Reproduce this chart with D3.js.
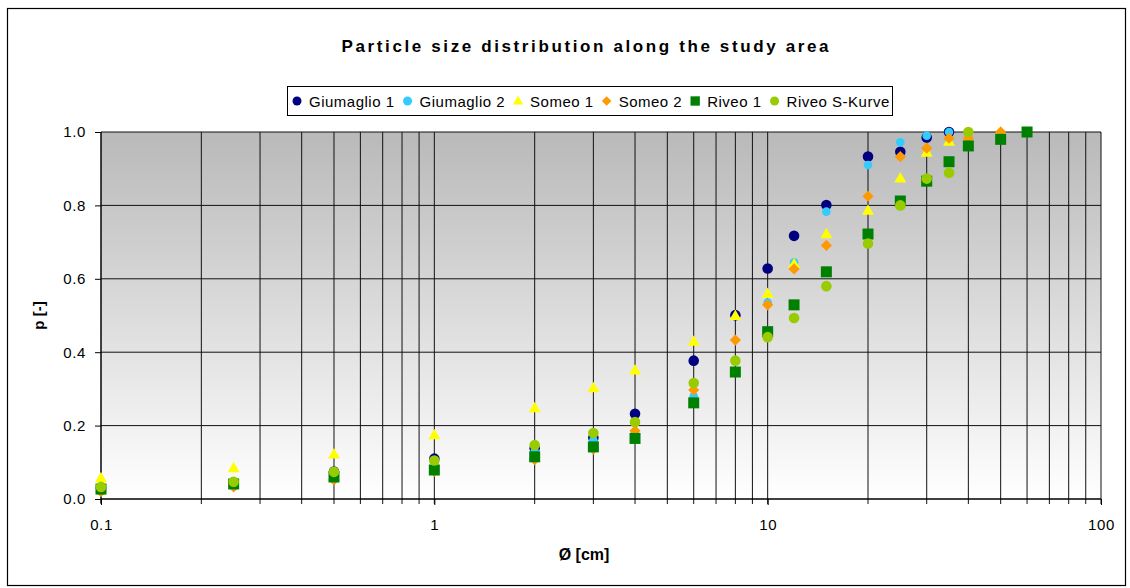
<!DOCTYPE html>
<html>
<head>
<meta charset="utf-8">
<script src="https://cdn.jsdelivr.net/npm/d3@7"></script>
<style>
  html, body { margin: 0; padding: 0; background: #fff; }
  svg { display: block; font-family: "Liberation Sans", Arial, sans-serif; }
</style>
</head>
<body>
<svg id="chart" width="1130" height="588"></svg>
<script>
// Grain diameters [cm] and cumulative passing fractions p [-]
const giumaglio1D = [0.1, 0.25, 0.5, 1, 2, 3, 4, 6, 8, 10, 12, 15, 20, 25, 30, 35];
const giumaglio1P = [0.03, 0.045, 0.075, 0.11, 0.138, 0.167, 0.232, 0.377, 0.501, 0.628, 0.717, 0.801, 0.933, 0.946, 0.985, 1.0];

const giumaglio2D = [0.1, 0.25, 0.5, 1, 2, 3, 4, 6, 8, 10, 12, 15, 20, 25, 30, 35];
const giumaglio2P = [0.03, 0.045, 0.07, 0.1, 0.13, 0.16, 0.18, 0.28, 0.378, 0.535, 0.645, 0.783, 0.91, 0.972, 0.99, 1.0];

const someo1D = [0.1, 0.25, 0.5, 1, 2, 3, 4, 6, 8, 10, 12, 15, 20, 25, 30, 35, 40, 50];
const someo1P = [0.057, 0.084, 0.122, 0.174, 0.248, 0.302, 0.351, 0.429, 0.499, 0.559, 0.64, 0.722, 0.786, 0.874, 0.944, 0.974, 0.978, 1.0];

const someo2D = [0.1, 0.25, 0.5, 1, 2, 3, 4, 6, 8, 10, 12, 15, 20, 25, 30, 35, 40, 50];
const someo2P = [0.02, 0.033, 0.052, 0.075, 0.107, 0.136, 0.186, 0.297, 0.433, 0.529, 0.627, 0.691, 0.825, 0.933, 0.956, 0.983, 0.983, 1.0];

const riveo1D = [0.1, 0.25, 0.5, 1, 2, 3, 4, 6, 8, 10, 12, 15, 20, 25, 30, 35, 40, 50, 60];
const riveo1P = [0.027, 0.041, 0.06, 0.079, 0.115, 0.142, 0.165, 0.262, 0.346, 0.456, 0.529, 0.619, 0.722, 0.812, 0.866, 0.919, 0.962, 0.98, 1.0];

const riveoSD = [0.1, 0.25, 0.5, 1, 2, 3, 4, 6, 8, 10, 12, 15, 20, 25, 30, 35, 40];
const riveoSP = [0.033, 0.047, 0.074, 0.105, 0.147, 0.18, 0.21, 0.316, 0.377, 0.441, 0.493, 0.58, 0.696, 0.80, 0.873, 0.889, 1.0];

const seriesNames = ["Giumaglio 1", "Giumaglio 2", "Someo 1", "Someo 2", "Riveo 1", "Riveo S-Kurve"];
const seriesColors = ["#000080", "#33CCFF", "#FFFF00", "#FF9900", "#008000", "#99CC00"];
const seriesShapes = ["circle", "smallCircle", "triangle", "diamond", "square", "circle"];

const xTickLabels = [0.1, 1, 10, 100];
const yTickValues = [0, 0.2, 0.4, 0.6, 0.8, 1.0];

const series = [
  [giumaglio1D, giumaglio1P], [giumaglio2D, giumaglio2P], [someo1D, someo1P],
  [someo2D, someo2P], [riveo1D, riveo1P], [riveoSD, riveoSP]
].map(([d, p], i) => ({
  name: seriesNames[i], color: seriesColors[i], shape: seriesShapes[i],
  points: d.map((v, j) => ({ d: v, p: p[j] }))
}));

const svg = d3.select("#chart");
const plot = { left: 101, right: 1101, top: 132, bottom: 499 };

const x = d3.scaleLog().domain([0.1, 100]).range([plot.left, plot.right]);
const y = d3.scaleLinear().domain([0, 1]).range([plot.bottom, plot.top]);

// outer frame
svg.append("rect").attr("x", 7.5).attr("y", 8.5).attr("width", 1118).attr("height", 577)
  .attr("fill", "#fff").attr("stroke", "#000").attr("stroke-width", 1.2);

// plot background: grey fading to white
const defs = svg.append("defs");
const grad = defs.append("linearGradient").attr("id", "bg").attr("x1", 0).attr("y1", 0).attr("x2", 0).attr("y2", 1);
grad.append("stop").attr("offset", "0%").attr("stop-color", "#b9b9b9");
grad.append("stop").attr("offset", "100%").attr("stop-color", "#ffffff");
svg.append("rect").attr("x", plot.left).attr("y", plot.top)
  .attr("width", plot.right - plot.left).attr("height", plot.bottom - plot.top)
  .attr("fill", "url(#bg)");

// vertical grid at every log tick
const logTicks = x.ticks();
svg.append("g").selectAll("line").data(logTicks).join("line")
  .attr("x1", d => x(d)).attr("x2", d => x(d))
  .attr("y1", plot.top).attr("y2", plot.bottom + 5)
  .attr("stroke", "#111").attr("stroke-width", 1);

// horizontal grid
svg.append("g").selectAll("line").data(yTickValues.slice(1)).join("line")
  .attr("x1", plot.left).attr("x2", plot.right)
  .attr("y1", d => y(d)).attr("y2", d => y(d))
  .attr("stroke", "#111").attr("stroke-width", 1);

// y axis
const yAxis = d3.axisLeft(y).tickValues(yTickValues).tickFormat(d3.format(".1f"))
  .tickSize(6).tickPadding(9);
const gy = svg.append("g").attr("transform", `translate(${plot.left},0)`).call(yAxis);
gy.attr("font-size", 15).attr("font-family", "Liberation Sans, Arial, sans-serif");
gy.select(".domain").attr("stroke", "#000").attr("d", `M0,${plot.top}V${plot.bottom + 4}`);
gy.selectAll(".tick line").attr("stroke", "#000");
gy.selectAll("text").attr("fill", "#000").attr("letter-spacing", "0.6px");

// x axis
const xAxis = d3.axisBottom(x).tickValues(xTickLabels).tickFormat(d => String(d))
  .tickSize(6).tickPadding(14);
const gx = svg.append("g").attr("transform", `translate(0,${plot.bottom})`).call(xAxis);
gx.attr("font-size", 15).attr("font-family", "Liberation Sans, Arial, sans-serif");
gx.select(".domain").attr("stroke", "#000").attr("stroke-width", 1.6).attr("d", `M${plot.left},0H${plot.right}`);
gx.selectAll(".tick line").attr("stroke", "#000");
gx.selectAll("text").attr("fill", "#000").attr("letter-spacing", "0.6px");

// axis titles
svg.append("text").attr("x", (plot.left + plot.right) / 2 - 17).attr("y", 560)
  .attr("text-anchor", "middle").attr("font-size", 16).attr("font-weight", "bold")
  .text("Ø [cm]");
svg.append("text").attr("transform", `translate(44,${(plot.top + plot.bottom) / 2}) rotate(-90)`)
  .attr("text-anchor", "middle").attr("font-size", 15).attr("font-weight", "bold")
  .text("p [-]");

// chart title
svg.append("text").attr("x", 585).attr("y", 52).attr("text-anchor", "middle")
  .attr("font-size", 17).attr("font-weight", "bold")
  .attr("textLength", 487).attr("lengthAdjust", "spacing")
  .text("Particle size distribution along the study area");

// marker shapes
function markerPath(shape) {
  switch (shape) {
    case "circle": return d3.symbol(d3.symbolCircle, Math.PI * 5.3 * 5.3)();
    case "smallCircle": return d3.symbol(d3.symbolCircle, Math.PI * 4.3 * 4.3)();
    case "square": return d3.symbol(d3.symbolSquare, 11 * 11)();
    case "triangle": {
      const s = 12, h = 10.5;
      return `M0,${-h * 0.6}L${s / 2},${h * 0.4}L${-s / 2},${h * 0.4}Z`;
    }
    case "diamond": {
      const r = 5.6;
      return `M0,${-r}L${r},0L0,${r}L${-r},0Z`;
    }
  }
}

// data markers, drawn in series order
series.forEach(s => {
  svg.append("g").selectAll("path").data(s.points).join("path")
    .attr("d", markerPath(s.shape))
    .attr("transform", d => `translate(${x(d.d)},${y(d.p)})`)
    .attr("fill", s.color);
});

// legend
const lg = svg.append("g");
lg.append("rect").attr("x", 287.5).attr("y", 86.5).attr("width", 605).attr("height", 29)
  .attr("fill", "#fff").attr("stroke", "#000").attr("stroke-width", 1);
let cx = 297;
series.forEach(s => {
  lg.append("path").attr("d", markerPath(s.shape === "smallCircle" ? "circle" : s.shape))
    .attr("transform", `translate(${cx},101) scale(0.85)`).attr("fill", s.color);
  const t = lg.append("text").attr("x", cx + 12).attr("y", 106.5)
    .attr("font-size", 15).attr("letter-spacing", "0.5px").attr("fill", "#000").text(s.name);
  cx = cx + 12 + t.node().getComputedTextLength() + 13;
});
</script>
</body>
</html>
